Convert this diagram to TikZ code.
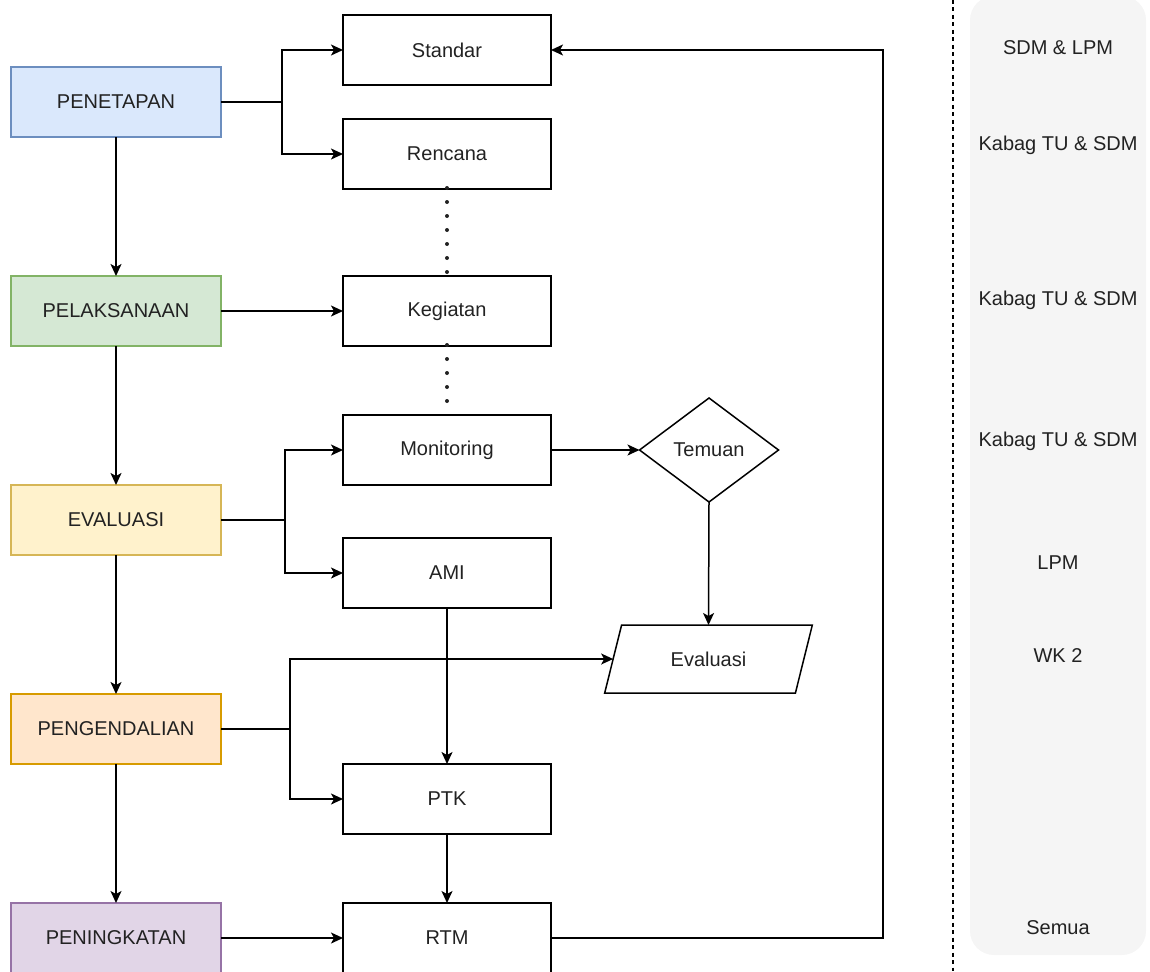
\documentclass[tikz,border=0pt]{standalone}
\usepackage{fontspec}
\setmainfont{Liberation Sans}
\usetikzlibrary{shapes.geometric,arrows.meta}
\definecolor{bluef}{HTML}{DAE8FC}\definecolor{blues}{HTML}{6C8EBF}
\definecolor{greenf}{HTML}{D5E8D4}\definecolor{greens}{HTML}{82B366}
\definecolor{yellf}{HTML}{FFF2CC}\definecolor{yells}{HTML}{D6B656}
\definecolor{orf}{HTML}{FFE6CC}\definecolor{ors}{HTML}{D79B00}
\definecolor{purf}{HTML}{E1D5E7}\definecolor{purs}{HTML}{9673A6}
\definecolor{panel}{HTML}{F5F5F5}
\definecolor{txt}{HTML}{222222}
\tikzset{
  base/.style={font=\fontsize{20}{24}\selectfont, text=txt, inner sep=0pt, outer sep=0pt},
  phase/.style={base, draw, line width=1.2pt, minimum width=210pt, minimum height=70pt},
  proc/.style={base, draw=black, line width=1.5pt, minimum width=208pt, minimum height=70pt},
  dec/.style={base, draw=black, line width=1.5pt, diamond, aspect=1.34, minimum width=139pt, minimum height=104pt},
  io/.style={base, draw=black, line width=1.5pt, trapezium, trapezium left angle=63.4, trapezium right angle=116.6, trapezium stretches=true, minimum width=209pt, minimum height=68pt},
  conn/.style={line width=1.5pt, draw=black},
  arr/.style={conn, -{Stealth[length=12pt,width=11pt,inset=3pt]}},
  dots/.style={line width=4pt, line cap=round, dash pattern=on 0pt off 14pt, draw=txt},
  lbl/.style={base}
}
\begin{document}
\begin{tikzpicture}[x=1pt,y=-1pt]
\useasboundingbox (0,0) rectangle (1150,971);
\clip (0,0) rectangle (1150,971);
% right panel
\fill[panel, rounded corners=24pt] (970,-4) rectangle (1146,955);
\draw[line width=1.8pt, dash pattern=on 4pt off 3.5pt] (953,0) -- (953,971);
\node[lbl] (r1) at (1058,48) {SDM \& LPM};
\node[lbl] (r2) at (1058,145) {Kabag TU \& SDM};
\node[lbl] (r3) at (1058,300) {Kabag TU \& SDM};
\node[lbl] (r4) at (1058,441) {Kabag TU \& SDM};
\node[lbl] (r5) at (1058,563) {LPM};
\node[lbl] (r6) at (1058,656) {WK 2};
\node[lbl] (r7) at (1058,928) {Semua};
% phases
\node[phase, fill=bluef, draw=blues] (pen) at (116,102) {PENETAPAN};
\node[phase, fill=greenf, draw=greens] (pel) at (116,311) {PELAKSANAAN};
\node[phase, fill=yellf, draw=yells] (eva) at (116,520) {EVALUASI};
\node[phase, fill=orf, draw=ors] (peng) at (116,729) {PENGENDALIAN};
\node[phase, fill=purf, draw=purs] (ping) at (116,938) {PENINGKATAN};
% processes
\node[proc] (std) at (447,50) {Standar};
\node[proc] (ren) at (447,154) {Rencana};
\node[proc] (keg) at (447,311) {Kegiatan};
\node[proc] (mon) at (447,450) {Monitoring};
\node[proc] (ami) at (447,573) {AMI};
\node[proc] (ptk) at (447,799) {PTK};
\node[proc] (rtm) at (447,938) {RTM};
\node[dec] (tem) at (709,450) {Temuan};
\node[io] (evp) at (708.5,659) {Evaluasi};
% junctions
\coordinate (j1) at (282,102);
\coordinate (j2) at (285,520);
\coordinate (j3) at (290,729);
\coordinate (rc) at (883,0);
% connectors
\draw[conn] (pen.east) -- (j1);
\draw[arr] (j1) |- (std.west);
\draw[arr] (j1) |- (ren.west);
\draw[arr] (pen.south) -- (pel.north);
\draw[arr] (pel.south) -- (eva.north);
\draw[arr] (eva.south) -- (peng.north);
\draw[arr] (peng.south) -- (ping.north);
\draw[arr] (pel.east) -- (keg.west);
\draw[conn] (eva.east) -- (j2);
\draw[arr] (j2) |- (mon.west);
\draw[arr] (j2) |- (ami.west);
\draw[arr] (mon.east) -- (tem.west);
\draw[arr] (tem.south) -- (evp.north);
\draw[conn] (peng.east) -- (j3);
\draw[arr] (j3) |- (evp.left side);
\draw[arr] (j3) |- (ptk.west);
\draw[arr] (ami.south) -- (ptk.north);
\draw[arr] (ptk.south) -- (rtm.north);
\draw[arr] (ping.east) -- (rtm.west);
\draw[arr] (rtm.east) -- (rtm.east -| rc) |- (std.east);
\draw[dots] ([yshift=1pt]ren.south) -- (keg.north);
\draw[dots] ([yshift=1pt]keg.south) -- (mon.north);
\end{tikzpicture}
\end{document}
